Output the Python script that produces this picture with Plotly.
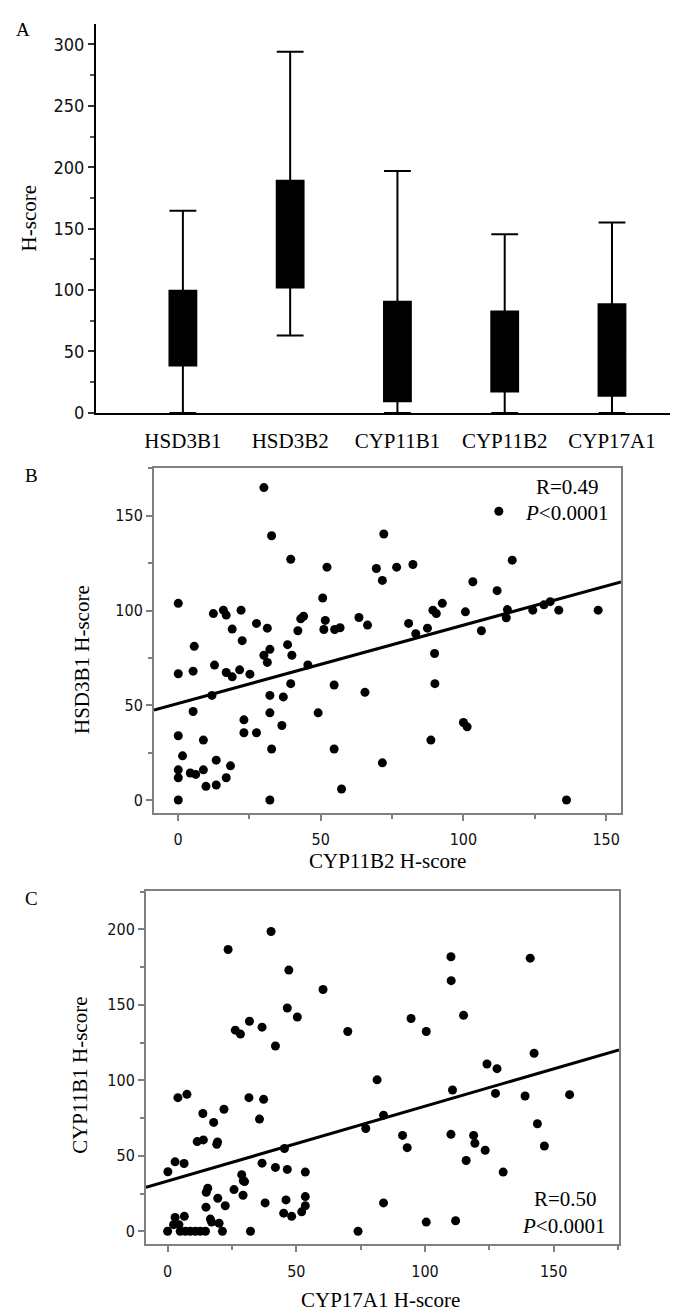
import plotly.graph_objects as go

W, H = 678, 1315

# ---------------- Panel A data ----------------
genes = ["HSD3B1", "HSD3B2", "CYP11B1", "CYP11B2", "CYP17A1"]
lower_fence = [0, 63, 0, 0, 0]
q1_vals = [38.5, 102, 9.5, 17.5, 14]
median_vals = [65, 140, 40, 45, 45]
q3_vals = [99.5, 189, 90.5, 82.5, 88.5]
upper_fence = [164.5, 294, 197, 145.5, 155]

# ---------------- Panel B data ----------------
b_cyp11b2 = [30.1, 112.4, 32.8, 72.1, 39.5, 117.1, 52.2, 69.5, 76.6, 82.3,
             71.6, 103.3, 111.8, 50.7, 0.1, 92.6, 130.4, 128.2, 12.4, 15.9,
             16.9, 22.1, 89.3, 90.5, 100.7, 115.4, 124.3, 133.4, 147.2, 115.0,
             43.0, 44.0, 51.6, 63.4, 27.5, 31.3, 19.0, 42.0, 51.1, 54.9,
             56.8, 66.4, 80.8, 87.4, 106.3, 83.3, 22.5, 5.7, 38.4, 32.2,
             30.1, 39.9, 89.9, 31.3, 12.8, 45.5, 5.3, 16.9, 21.6, 0.1,
             19.0, 25.2, 39.5, 54.7, 90.0, 65.5, 11.9, 32.2, 36.9, 5.3,
             32.2, 49.1, 100.0, 101.3, 23.1, 36.4, 23.1, 27.5, 0.1, 8.9,
             88.6, 32.8, 54.7, 1.6, 13.4, 71.6, 18.4, 0.1, 8.9, 4.3,
             6.2, 0.1, 16.9, 9.8, 13.4, 57.3, 0.1, 32.2, 136.1]
b_hsd3b1 = [164.9, 152.4, 139.5, 140.4, 127.1, 126.6, 122.9, 122.2, 122.9, 124.3,
            115.9, 115.2, 110.5, 106.6, 103.8, 103.8, 104.7, 103.0, 98.4, 100.2,
            97.6, 100.2, 100.2, 98.4, 99.3, 100.5, 100.2, 100.2, 100.2, 96.2,
            95.6, 97.0, 94.8, 96.3, 93.2, 90.7, 90.2, 89.3, 90.0, 90.0,
            90.9, 92.3, 93.2, 90.7, 89.3, 87.8, 84.1, 81.1, 82.0, 79.5,
            76.4, 76.4, 77.3, 72.6, 71.2, 71.3, 68.0, 67.3, 68.7, 66.6,
            65.0, 66.4, 61.4, 60.7, 61.4, 56.8, 55.2, 55.2, 54.4, 46.7,
            46.0, 46.0, 40.9, 38.6, 42.3, 39.3, 35.5, 35.5, 33.9, 31.6,
            31.6, 26.9, 26.9, 23.3, 21.0, 19.6, 18.0, 15.9, 15.9, 14.2,
            13.5, 11.7, 11.7, 7.2, 7.9, 5.8, 0.0, 0.0, 0.0]
b_fit = [50.9, 0.414]          # intercept, slope of drawn regression line
b_fit_x = [-8.4, 155.2]

# ---------------- Panel C data ----------------
c_cyp17a1 = [40.2, 23.5, 110.1, 140.9, 47.1, 110.2, 60.4, 46.5, 50.4, 115.0,
             94.6, 31.8, 36.7, 26.3, 28.3, 70.0, 100.5, 41.9, 142.4, 124.1,
             128.0, 81.4, 110.7, 127.4, 138.9, 156.2, 4.0, 7.5, 31.6, 37.3,
             21.9, 13.7, 17.9, 35.7, 83.9, 143.7, 77.0, 91.3, 118.9, 110.1,
             11.5, 13.9, 19.1, 19.4, 93.1, 119.4, 146.4, 123.4, 45.4, 116.0,
             2.9, 6.4, 36.7, 41.9, 46.5, 53.5, 0.1, 130.4, 28.8, 29.4,
             29.9, 25.8, 15.6, 15.0, 29.3, 19.5, 53.5, 14.9, 22.4, 37.9,
             46.0, 83.9, 53.5, 45.1, 52.1, 48.2, 16.6, 17.1, 20.0, 2.9,
             6.5, 2.3, 4.4, 100.5, 111.9, 0.0, 4.9, 6.9, 8.8, 10.8,
             12.7, 14.7, 21.3, 32.2, 74.0]
c_cyp11b1 = [198.5, 186.6, 181.8, 180.9, 173.0, 166.0, 160.1, 147.9, 141.9, 143.0,
             140.9, 139.1, 135.2, 133.2, 130.6, 132.3, 132.3, 122.7, 117.9, 110.8,
             107.7, 100.3, 93.6, 91.3, 89.6, 90.5, 88.5, 90.7, 88.5, 87.4,
             80.8, 78.0, 72.1, 74.3, 76.9, 71.2, 68.1, 63.5, 63.5, 64.2,
             59.4, 60.5, 57.6, 59.1, 55.4, 58.3, 56.5, 53.7, 54.8, 46.9,
             46.0, 44.9, 45.1, 42.3, 41.0, 39.2, 39.4, 39.2, 37.5, 33.5,
             32.9, 27.6, 28.5, 25.8, 23.9, 21.9, 23.0, 16.0, 16.9, 18.8,
             20.8, 18.8, 16.9, 12.0, 12.9, 9.9, 8.1, 6.1, 5.3, 9.2,
             9.9, 4.4, 4.4, 6.1, 7.0, 0.0, 0.0, 0.0, 0.0, 0.0,
             0.0, 0.0, 0.0, 0.0, 0.0]
c_fit = [33.3, 0.495]
c_fit_x = [-8.4, 175.4]

SANS = "DejaVu Sans Condensed, DejaVu Sans, sans-serif"
SERIF = "Liberation Serif, Times New Roman, serif"
GREY = "#808080"


def xd(l, r):
    return [l / W, r / W]


def yd(top, bottom):
    return [1 - bottom / H, 1 - top / H]


fig = go.Figure()

# Panel A boxes
fig.add_trace(go.Box(
    x=genes, q1=q1_vals, median=median_vals, q3=q3_vals,
    lowerfence=lower_fence, upperfence=upper_fence,
    fillcolor="black", line=dict(color="black", width=2),
    whiskerwidth=1, width=0.25, boxpoints=False,
    xaxis="x", yaxis="y", showlegend=False, hoverinfo="skip"))

# Panel B scatter
fig.add_trace(go.Scatter(
    x=b_cyp11b2, y=b_hsd3b1, mode="markers",
    marker=dict(color="black", size=9), xaxis="x2", yaxis="y2",
    showlegend=False))
fig.add_trace(go.Scatter(
    x=b_fit_x, y=[b_fit[0] + b_fit[1] * v for v in b_fit_x], mode="lines",
    line=dict(color="black", width=3), xaxis="x2", yaxis="y2",
    showlegend=False))

# Panel C scatter
fig.add_trace(go.Scatter(
    x=c_cyp17a1, y=c_cyp11b1, mode="markers",
    marker=dict(color="black", size=9), xaxis="x3", yaxis="y3",
    showlegend=False))
fig.add_trace(go.Scatter(
    x=c_fit_x, y=[c_fit[0] + c_fit[1] * v for v in c_fit_x], mode="lines",
    line=dict(color="black", width=3), xaxis="x3", yaxis="y3",
    showlegend=False))

tickfont = dict(family=SANS, size=16, color="#111")


def frame_axis(domain, anchor, rng, standoff=0):
    return dict(domain=domain, anchor=anchor, range=rng,
                showline=True, mirror=True, linecolor=GREY, linewidth=2,
                ticks="outside", ticklen=6, tickcolor=GREY, tickwidth=1.5,
                dtick=50, tick0=0, showgrid=False, zeroline=False,
                tickfont=tickfont, ticklabelstandoff=standoff,
                minor=dict(dtick=25, ticks="outside", ticklen=4, tickcolor=GREY))


fig.update_layout(
    width=W, height=H, margin=dict(l=0, r=0, t=0, b=0),
    paper_bgcolor="white", plot_bgcolor="white",
    xaxis=dict(domain=xd(88, 678), anchor="y", type="category",
               range=[-0.81, 4.69], showline=True, linecolor="black", linewidth=2,
               ticks="", showgrid=False, zeroline=False,
               tickfont=dict(family=SERIF, size=21, color="black"),
               ticklabelstandoff=8),
    yaxis=dict(domain=yd(16, 408), anchor="x", range=[0, 316.7],
               showline=True, linecolor="black", linewidth=2,
               ticks="outside", ticklen=6, tickwidth=1.5, tickcolor="#333",
               dtick=50, tick0=0, showgrid=False, zeroline=False,
               tickfont=dict(family=SANS, size=18, color="#111"),
               minor=dict(dtick=25, ticks="outside", ticklen=4, tickcolor="#555")),
    xaxis2=frame_axis(xd(146, 613), "y2", [-8.4, 155.2], standoff=5),
    yaxis2=frame_axis(yd(464, 811), "x2", [-6.8, 175]),
    xaxis3=frame_axis(xd(138, 611), "y3", [-8.4, 175.4], standoff=6),
    yaxis3=frame_axis(yd(890, 1245), "x3", [-8.1, 225.2]),
)


def ann(text, px, py, size=21, angle=0, family=SERIF):
    fig.add_annotation(text=text, x=px / W, y=1 - py / H, xref="paper", yref="paper",
                       xanchor="center", yanchor="middle", showarrow=False,
                       textangle=angle, font=dict(family=family, size=size, color="black"))


ann("A", 15, 22, size=19)
ann("B", 23, 471, size=19)
ann("C", 23, 897, size=19)
ann("H-score", 21, 212, angle=-90)
ann("HSD3B1 H-score", 74, 657, angle=-90)
ann("CYP11B1 H-score", 72, 1076, angle=-90)
ann("CYP11B2 H-score", 379, 860)
ann("CYP17A1 H-score", 372, 1302)
ann("R=0.49", 559, 483)
ann("<i>P</i><0.0001", 558, 509)
ann("R=0.50", 557, 1200)
ann("<i>P</i><0.0001", 555, 1227)

fig.write_html("out.html")
